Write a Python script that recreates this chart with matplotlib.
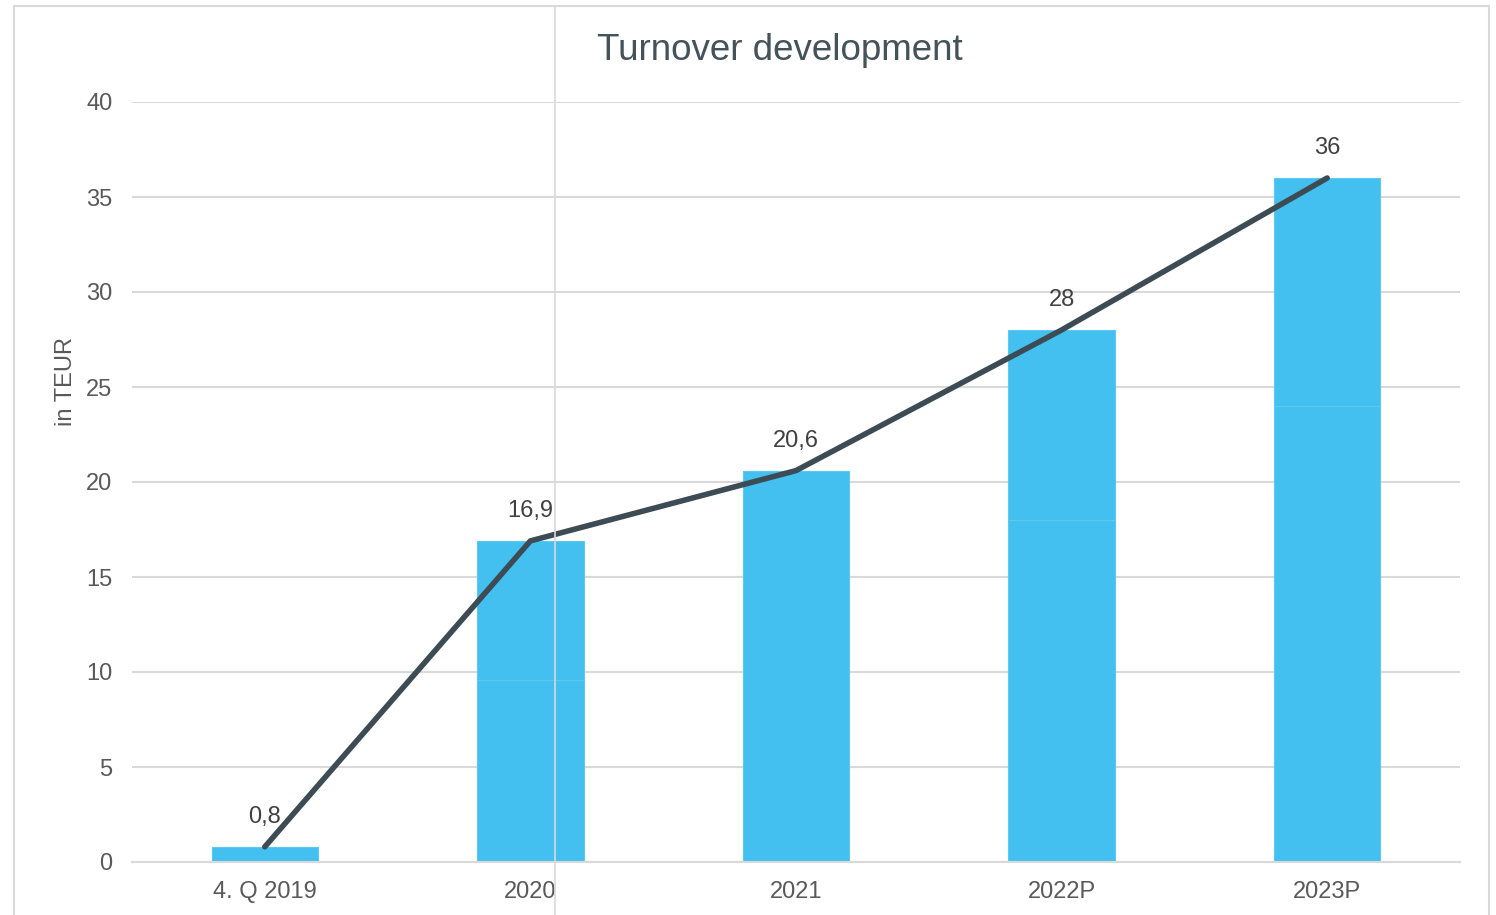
import matplotlib
matplotlib.use("Agg")
import matplotlib.pyplot as plt
from matplotlib.lines import Line2D
from matplotlib.patches import Rectangle

categories = ["4. Q 2019", "2020", "2021", "2022P", "2023P"]
bar_lower = [0.8, 9.6, 20.6, 18.0, 24.0]
bar_upper = [0.0, 7.3, 0.0, 10.0, 12.0]
totals = [0.8, 16.9, 20.6, 28, 36]
labels = ["0,8", "16,9", "20,6", "28", "36"]
yticks = [0, 5, 10, 15, 20, 25, 30, 35, 40]

plt.rcParams['font.family'] = ['Liberation Sans', 'DejaVu Sans']

W, H = 1496, 915
fig = plt.figure(figsize=(W / 100, H / 100), dpi=100)

# outer frame
fig.patches.append(Rectangle((14 / W, -0.05), (1489 - 14) / W, 1 - 6 / H + 0.05,
                             transform=fig.transFigure, fill=False,
                             edgecolor='#D9D9D9', linewidth=1.5, zorder=0))
fig.lines.append(Line2D([555 / W, 555 / W], [0, 1 - 6 / H], transform=fig.transFigure,
                        color='#D9D9D9', linewidth=1.2, zorder=0))

ax = fig.add_axes([132 / W, 1 - 862 / H, (1460 - 132) / W, (862 - 102) / H])
ax.set_facecolor('none')
x = list(range(len(categories)))
bar_color = '#43C0EF'
edge = '#5CC9F1'
ax.bar(x, bar_lower, width=0.4, color=bar_color, edgecolor=edge, linewidth=0.8, zorder=2)
ax.bar(x, bar_upper, width=0.4, bottom=bar_lower, color=bar_color, edgecolor=edge,
       linewidth=0.8, zorder=2)
ax.plot(x, totals, color='#3D4C54', linewidth=4.0, solid_capstyle='round',
        solid_joinstyle='round', zorder=3)

for xi, v, lab in zip(x, totals, labels):
    ax.annotate(lab, (xi, v), xytext=(0, 21.5), textcoords='offset points',
                ha='center', va='center', fontsize=17, color='#404040', zorder=4)

ax.set_xlim(-0.5, 4.5)
ax.set_ylim(0, 40)
ax.set_yticks(yticks)
ax.set_yticklabels([str(t) for t in yticks])
ax.set_xticks(x)
ax.set_xticklabels(categories)
ax.yaxis.grid(True, color='#D9D9D9', linewidth=1.5, zorder=0)
ax.set_axisbelow(True)
for s in ['top', 'right', 'left']:
    ax.spines[s].set_visible(False)
ax.spines['bottom'].set_color('#D9D9D9')
ax.spines['bottom'].set_linewidth(1.5)
ax.tick_params(axis='both', length=0, labelsize=17, colors='#595959')
ax.tick_params(axis='y', pad=14)
ax.tick_params(axis='x', pad=14)
ax.set_ylabel("in TEUR", fontsize=17, color='#595959')
ax.yaxis.set_label_coords((66 - 132) / 1328, (862 - 381) / 760)
ax.yaxis.label.set_va('center')

fig.text(780 / W, 1 - 51 / H, "Turnover development", ha='center', va='center',
         fontsize=26.5, color='#44525A')

fig.savefig("out.png", dpi=100)
